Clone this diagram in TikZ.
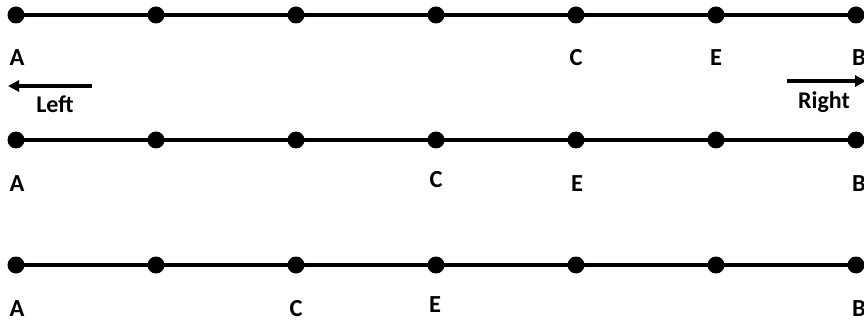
\documentclass[tikz,border=0pt]{standalone}
\usepackage{fontspec}
\setmainfont{Carlito}
\usetikzlibrary{arrows.meta}
\begin{document}
\begin{tikzpicture}[x=1pt,y=-1pt,
  dot/.style={circle,fill=black,inner sep=0pt,minimum size=17pt},
  seg/.style={line width=4.5pt},
  lbl/.style={font=\bfseries\fontsize{24.5}{24.5}\selectfont,inner sep=0pt},
  dirlbl/.style={font=\bfseries\fontsize{24}{24}\selectfont,inner sep=0pt,anchor=base},
  dirarrow/.style={line width=4pt,-{Triangle[length=11pt,width=11pt]}}]
\useasboundingbox (0,0) rectangle (864,323);
% rows of dots
\foreach \r/\y in {1/15,2/140,3/265}{
  \foreach \i/\x in {1/16,2/156,3/296,4/436,5/576,6/716,7/856}{
    \coordinate (p\r\i) at (\x,\y);
  }
  \draw[seg] (p\r1) -- (p\r7);
  \foreach \i in {1,...,7}{
    \node[dot] (d\r\i) at (p\r\i) {};
  }
}
% labels row 1
\node[lbl] (a1) at (17,58) {A};
\node[lbl] (c1) at (576,58) {C};
\node[lbl] (e1) at (716,58) {E};
\node[lbl] (b1) at (859,58) {B};
% labels row 2
\node[lbl] (a2) at (17,184) {A};
\node[lbl] (c2) at (436,180) {C};
\node[lbl] (e2) at (577,184) {E};
\node[lbl] (b2) at (859,184) {B};
% labels row 3
\node[lbl] (a3) at (17,309) {A};
\node[lbl] (c3) at (296,309) {C};
\node[lbl] (e3) at (435,305) {E};
\node[lbl] (b3) at (859,309) {B};
% direction arrows
\coordinate (ls) at (92,86);
\coordinate (le) at (8,86);
\draw[dirarrow] (ls) -- (le);
\node[dirlbl] (left) at (55,113) {Left};
\coordinate (rs) at (787,81);
\coordinate (re) at (866,81);
\draw[dirarrow] (rs) -- (re);
\node[dirlbl] (right) at (824,109) {Right};
\end{tikzpicture}
\end{document}
